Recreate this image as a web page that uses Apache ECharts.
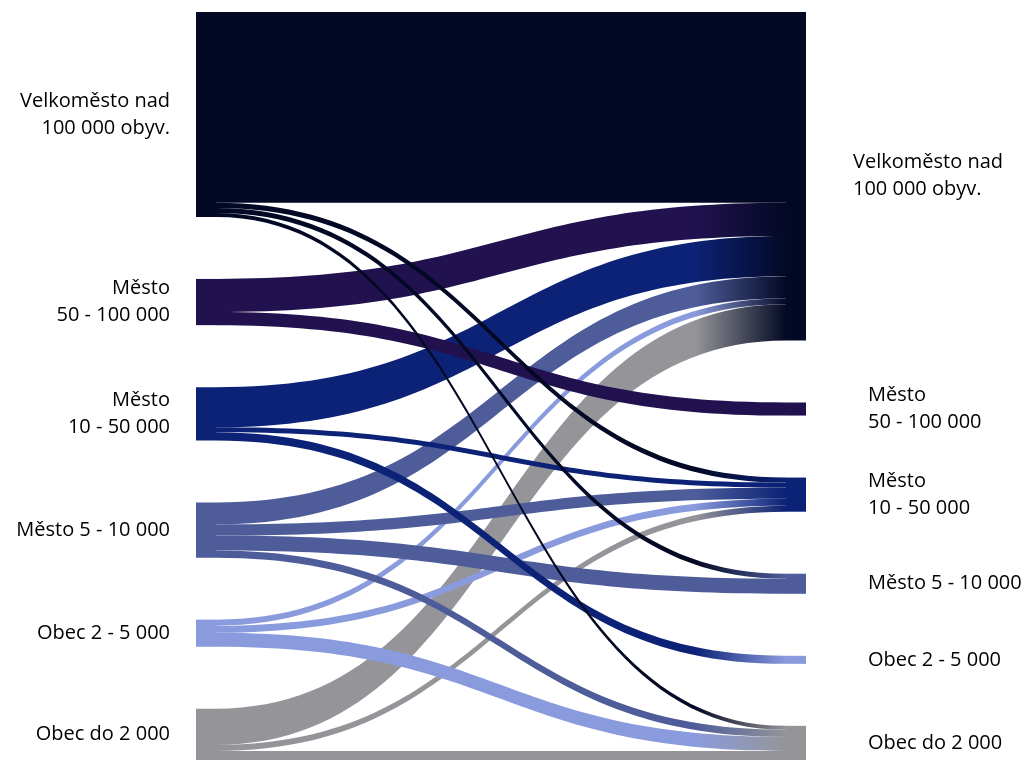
<!DOCTYPE html>
<html>
<head>
<meta charset="utf-8">
<script src="https://cdn.jsdelivr.net/npm/echarts@6/dist/echarts.min.js"></script>
<style>
html,body{margin:0;padding:0;background:#ffffff;}
#chart{width:1026px;height:761px;}
</style>
</head>
<body>
<div id="chart"></div>
<script>
// Categories (same for origin column on the left and destination column on the right)
const categories = [
  'Velkoměsto nad\n100 000 obyv.',
  'Město\n50 - 100 000',
  'Město\n10 - 50 000',
  'Město 5 - 10 000',
  'Obec 2 - 5 000',
  'Obec do 2 000'
];

// Flows from each origin category to destination categories (same order as categories)
const fromVelkomesto = [190, 0, 5, 5, 0, 4];
const fromMesto50    = [33, 13, 0, 0, 0, 0];
const fromMesto10    = [40, 0, 5, 0, 8, 0];
const fromMesto5     = [22, 0, 11, 15, 0, 7];
const fromObec2      = [6, 0, 7, 0, 0, 14];
const fromObecDo2    = [36, 0, 6, 0, 0, 9];

const flows = [fromVelkomesto, fromMesto50, fromMesto10, fromMesto5, fromObec2, fromObecDo2];

const colors = ['#030925', '#21124f', '#0c2276', '#4e5d9a', '#8a9bdd', '#959599'];

const nodes = [];
categories.forEach((c, i) => {
  nodes.push({
    name: 'L' + i,
    itemStyle: { color: colors[i] },
    label: { formatter: c, position: 'left', distance: 26 }
  });
});
categories.forEach((c, i) => {
  nodes.push({
    name: 'R' + i,
    itemStyle: { color: colors[i] },
    label: { formatter: c, position: 'right', distance: i === 0 ? 47 : 62 }
  });
});

const links = [];
for (let s = flows.length - 1; s >= 0; s--) {
  flows[s].forEach((v, t) => {
    if (!v) return;
    const color = s === t ? colors[s] : {
      type: 'linear', x: 0, y: 0, x2: 1, y2: 0,
      colorStops: [
        { offset: 0, color: colors[s] },
        { offset: 0.84, color: colors[s] },
        { offset: 1, color: colors[t] }
      ]
    };
    links.push({ source: 'L' + s, target: 'R' + t, value: v, lineStyle: { color: color } });
  });
}

const chart = echarts.init(document.getElementById('chart'), null, { renderer: 'canvas' });
chart.setOption({
  backgroundColor: '#ffffff',
  animation: false,
  series: [{
    type: 'sankey',
    left: 196,
    right: 220,
    top: 12,
    bottom: 1,
    nodeWidth: 20,
    nodeGap: 62,
    layoutIterations: 0,
    draggable: false,
    emphasis: { disabled: true },
    data: nodes,
    links: links,
    itemStyle: { borderWidth: 0 },
    lineStyle: { opacity: 1, curveness: 0.5 },
    label: {
      color: '#000000',
      fontFamily: 'Open Sans',
      fontSize: 20,
      lineHeight: 27
    }
  }]
});
</script>
</body>
</html>
